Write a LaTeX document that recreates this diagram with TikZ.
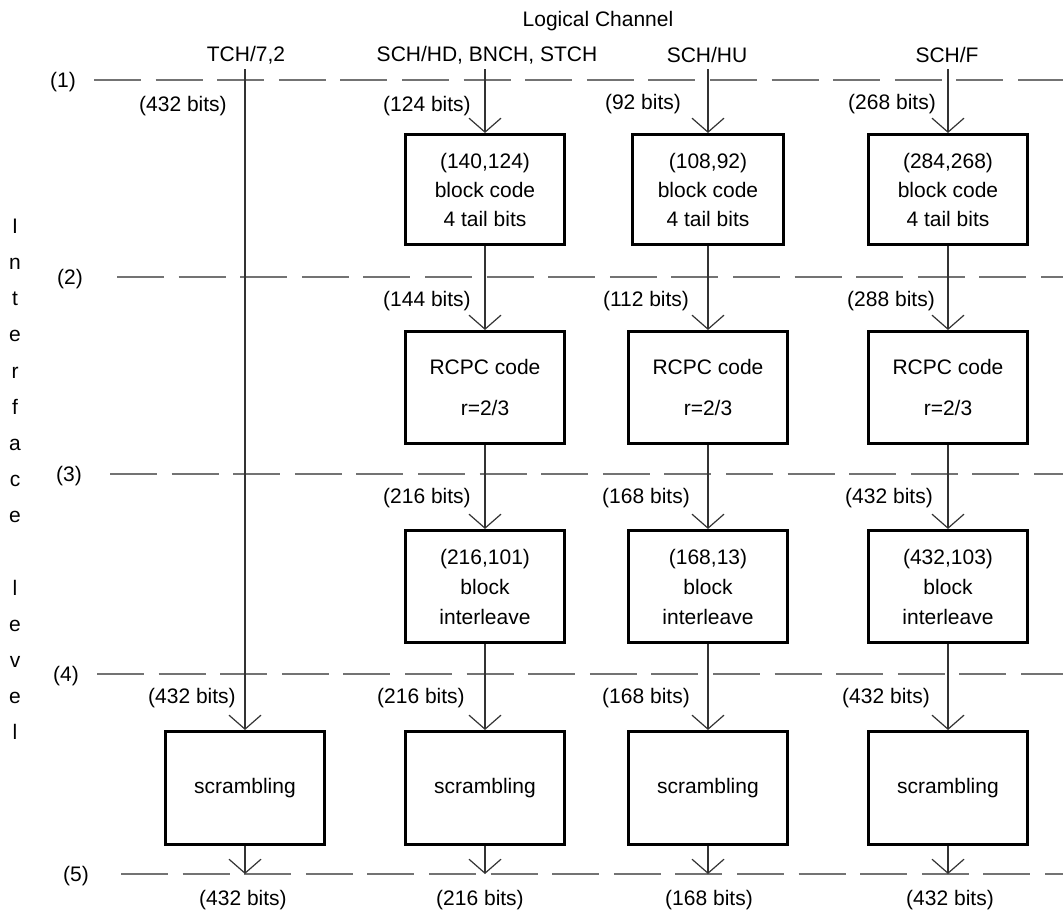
\documentclass[tikz,border=0pt]{standalone}
\usepackage{fontspec}
\setmainfont{Liberation Sans}
\usetikzlibrary{arrows.meta}
\begin{document}
\begin{tikzpicture}[x=1pt,y=-1pt,
  every node/.style={font=\fontsize{21}{25}\selectfont, text=black, inner sep=0pt},
  bx/.style={draw=black, line width=2.6pt, minimum width=159.5pt, align=center},
  rowa/.style={bx, minimum height=110.5pt, font=\fontsize{21}{29}\selectfont},
  rowb/.style={bx, minimum height=112.5pt, font=\fontsize{21}{41}\selectfont},
  rowc/.style={bx, minimum height=112.5pt, font=\fontsize{21}{30}\selectfont},
  rowd/.style={bx, minimum height=113.5pt},
  conn/.style={draw=black!80, line width=1.2pt, -{Straight Barb[length=14pt,width=32pt]}},
  dl/.style={draw=black!55, line width=1.5pt, dash pattern=on 47pt off 14.6pt},
  lvl/.style={anchor=base}]
\useasboundingbox (0,0) rectangle (1063,913);

% level markers and dashed lines
\node (L1) at (63,82) {(1)};
\node (L2) at (70,279) {(2)};
\node (L3) at (69,476) {(3)};
\node (L4) at (66,676) {(4)};
\node (L5) at (76,876) {(5)};
\coordinate (d1a) at (94,80);  \coordinate (d1b) at (1063,80);
\coordinate (d2a) at (117,277); \coordinate (d2b) at (1063,277);
\coordinate (d3a) at (110,474); \coordinate (d3b) at (1063,474);
\coordinate (d4a) at (97,674);  \coordinate (d4b) at (1063,674);
\coordinate (d5a) at (121,874); \coordinate (d5b) at (1063,874);
\draw[dl] (d1a) -- (d1b);
\draw[dl] (d2a) -- (d2b);
\draw[dl] (d3a) -- (d3b);
\draw[dl] (d4a) -- (d4b);
\draw[dl] (d5a) -- (d5b);

% vertical "Interface level"
\foreach \ch/\yy [count=\i] in {I/233,n/269,t/305,e/341,r/378,f/414,a/450,c/486,e/522,l/595,e/631,v/667,e/703,l/739}
  \node[lvl] (V\i) at (15,\yy) {\ch};

% headings
\node (LC) at (598,21) {Logical Channel};
\node (H1) at (246,55) {TCH/7,2};
\node (H2) at (487,55) {SCH/HD, BNCH, STCH};
\node (H3) at (707,55) {SCH/HU};
\node (H4) at (947,55) {SCH/F};

% top coordinates and bottom coordinates
\coordinate (t1) at (245,69);
\coordinate (t2) at (485,69);
\coordinate (t3) at (708,69);
\coordinate (t4) at (948,69);
\coordinate (e1) at (245,874);
\coordinate (e2) at (485,874);
\coordinate (e3) at (708,874);
\coordinate (e4) at (948,874);

% boxes
\node[rowa] (a2) at (485,189.5) {(140,124)\\block code\\4 tail bits};
\node[rowa, minimum width=151pt] (a3) at (708,189.5) {(108,92)\\block code\\4 tail bits};
\node[rowa] (a4) at (948,189.5) {(284,268)\\block code\\4 tail bits};

\node[rowb] (b2) at (485,387.5) {RCPC code\\r=2/3};
\node[rowb] (b3) at (708,387.5) {RCPC code\\r=2/3};
\node[rowb] (b4) at (948,387.5) {RCPC code\\r=2/3};

\node[rowc] (c2) at (485,586.5) {(216,101)\\block\\interleave};
\node[rowc] (c3) at (708,586.5) {(168,13)\\block\\interleave};
\node[rowc] (c4) at (948,586.5) {(432,103)\\block\\interleave};

\node[rowd] (s1) at (245,788) {scrambling};
\node[rowd] (s2) at (485,788) {scrambling};
\node[rowd] (s3) at (708,788) {scrambling};
\node[rowd] (s4) at (948,788) {scrambling};

% connectors
\draw[conn] (t1) -- (s1.north);
\draw[conn] (t2) -- (a2.north);
\draw[conn] (t3) -- (a3.north);
\draw[conn] (t4) -- (a4.north);
\foreach \k in {2,3,4}{
  \draw[conn] (a\k.south) -- (b\k.north);
  \draw[conn] (b\k.south) -- (c\k.north);
  \draw[conn] (c\k.south) -- (s\k.north);
}
\foreach \k in {1,2,3,4}
  \draw[conn] (s\k.south) -- (e\k);

% bit labels
\node (p11) at (183,106) {(432 bits)};
\node (p12) at (427,106) {(124 bits)};
\node (p13) at (643,104) {(92 bits)};
\node (p14) at (892,104) {(268 bits)};

\node (p22) at (427,301) {(144 bits)};
\node (p23) at (646,301) {(112 bits)};
\node (p24) at (891,301) {(288 bits)};

\node (p32) at (427,498) {(216 bits)};
\node (p33) at (646,498) {(168 bits)};
\node (p34) at (889,498) {(432 bits)};

\node (p41) at (192,698) {(432 bits)};
\node (p42) at (421,698) {(216 bits)};
\node (p43) at (646,698) {(168 bits)};
\node (p44) at (886,698) {(432 bits)};

\node (p51) at (243,900) {(432 bits)};
\node (p52) at (480,900) {(216 bits)};
\node (p53) at (709,900) {(168 bits)};
\node (p54) at (950,900) {(432 bits)};
\end{tikzpicture}
\end{document}
